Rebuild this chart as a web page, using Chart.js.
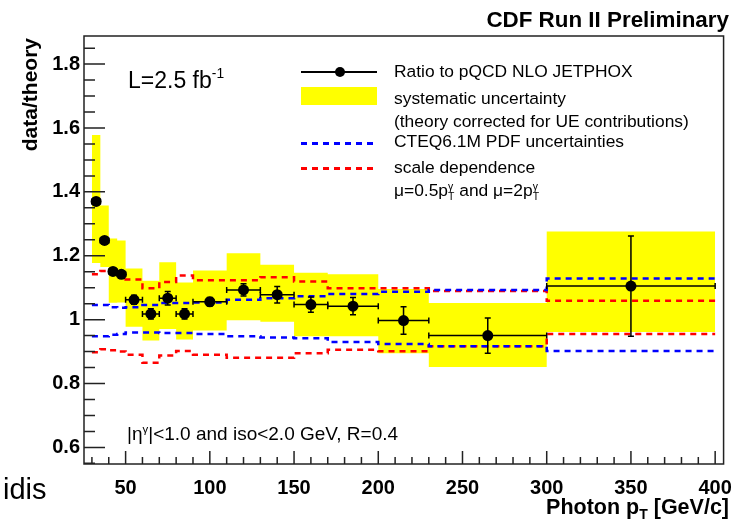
<!DOCTYPE html>
<html>
<head>
<meta charset="utf-8">
<script src="https://cdn.jsdelivr.net/npm/chart.js@4/dist/chart.umd.min.js"></script>
<style>
  html, body { margin: 0; padding: 0; background: #fff; }
  #wrap { position: relative; width: 744px; height: 519px; font-family: "Liberation Sans", Arial, sans-serif; color: #000; overflow: hidden; }
  #chart { position: absolute; left: 0; top: 0; }
  .t { position: absolute; white-space: nowrap; line-height: 1; }
  .b { font-weight: bold; }
  .leg { font-size: 17.4px; left: 394px; }
  .stk { display: inline-block; vertical-align: -4px; font-size: 0.6em; line-height: 1; text-align: left; }
  .stk span { display: block; }
  .sym { position: absolute; left: 301px; width: 76px; }
  .dash { height: 2.5px; }
</style>
</head>
<body>
<div id="wrap">
  <canvas id="chart" width="744" height="519"></canvas>

  <div class="t b" style="right:15px; top:9px; font-size:22.4px;">CDF Run II Preliminary</div>
  <div class="t b" style="left:19px; top:238px; width:200px; text-align:right; font-size:21px; transform:rotate(-90deg); transform-origin:top left;">data/theory</div>
  <div class="t b" style="right:15px; top:497px; font-size:21.5px;">Photon p<sub style="font-size:0.65em;">T</sub> [GeV/c]</div>

  <div class="t" style="left:128px; top:67px; font-size:23px;">L=2.5 fb<sup style="font-size:0.6em; vertical-align:0.7em;">-1</sup></div>
  <div class="t" style="left:127px; top:424px; font-size:19px;">|η<sup style="font-size:0.6em; vertical-align:0.6em;">γ</sup>|&lt;1.0 and iso&lt;2.0 GeV, R=0.4</div>
  <div class="t" style="left:3px; top:475px; font-size:29px;">idis</div>

  <!-- legend -->
  <div class="sym" style="top:71px; height:1.5px; background:#000;"></div>
  <div style="position:absolute; left:335px; top:67px; width:10px; height:10px; border-radius:50%; background:#000;"></div>
  <div class="sym" style="top:87px; height:18px; background:#ffff00;"></div>
  <div class="sym dash" style="top:142px; background:repeating-linear-gradient(90deg, #0000ff 0 6px, transparent 6px 11px);"></div>
  <div class="sym dash" style="top:167px; background:repeating-linear-gradient(90deg, #ff0000 0 6px, transparent 6px 11px);"></div>

  <div class="t leg" style="top:63px;">Ratio to pQCD NLO JETPHOX</div>
  <div class="t leg" style="top:90px;">systematic uncertainty</div>
  <div class="t leg" style="top:113px;">(theory corrected for UE contributions)</div>
  <div class="t leg" style="top:133px;">CTEQ6.1M PDF uncertainties</div>
  <div class="t leg" style="top:159px;">scale dependence</div>
  <div class="t leg" style="top:182px;">μ=0.5p<span class="stk"><span>γ</span><span>T</span></span> and μ=2p<span class="stk"><span>γ</span><span>T</span></span></div>
</div>

<script>
// bins in photon pT (GeV/c)
const binEdges = [30, 35, 40, 45, 50, 60, 70, 80, 90, 110, 130, 150, 170, 200, 230, 300, 400];
const ptCenters = [32.5, 37.5, 42.5, 47.5, 55, 65, 75, 85, 100, 120, 140, 160, 185, 215, 265, 350];

// data / theory with stat errors
const ratio = [1.370, 1.248, 1.151, 1.142, 1.062, 1.018, 1.067, 1.018, 1.056, 1.093, 1.078, 1.047, 1.042, 0.997, 0.950, 1.105];
const statErr = [0.008, 0.008, 0.010, 0.010, 0.014, 0.016, 0.021, 0.016, 0.013, 0.019, 0.026, 0.024, 0.027, 0.043, 0.055, 0.157];

// systematic band
const sysHigh = [1.578, 1.357, 1.254, 1.248, 1.160, 1.122, 1.180, 1.116, 1.154, 1.208, 1.172, 1.147, 1.142, 1.096, 1.052, 1.276];
const sysLow = [1.177, 1.165, 1.053, 1.054, 0.978, 0.935, 0.971, 0.938, 0.966, 0.998, 0.993, 0.948, 0.948, 0.895, 0.852, 0.961];

// CTEQ6.1M PDF uncertainties
const pdfHigh = [1.046, 1.046, 1.039, 1.037, 1.039, 1.046, 1.052, 1.052, 1.054, 1.062, 1.067, 1.073, 1.080, 1.087, 1.093, 1.129];
const pdfLow = [0.948, 0.948, 0.953, 0.955, 0.960, 0.960, 0.958, 0.958, 0.955, 0.948, 0.944, 0.942, 0.930, 0.924, 0.917, 0.902];

// scale dependence
const scaleHigh = [1.142, 1.152, 1.148, 1.142, 1.126, 1.098, 1.118, 1.138, 1.123, 1.123, 1.133, 1.119, 1.098, 1.098, 1.090, 1.059];
const scaleLow = [0.898, 0.907, 0.904, 0.900, 0.890, 0.865, 0.888, 0.902, 0.890, 0.881, 0.881, 0.895, 0.906, 0.901, 0.917, 0.955];

// axes
const xTickVals = [50, 100, 150, 200, 250, 300, 350, 400];
const yTickVals = [0.6, 0.8, 1.0, 1.2, 1.4, 1.6, 1.8];

const FONT = '"Liberation Sans", Arial, sans-serif';

function stepData(vals) {
    // histogram steps: one point per low bin edge, plus the last upper edge
    let pts = vals.map((v, i) => ({ x: binEdges[i], y: v }));
    pts.push({ x: binEdges[binEdges.length - 1], y: vals[vals.length - 1] });
    return pts;
}

function dashed(vals, color) {
    return {
        data: stepData(vals),
        stepped: true,
        borderColor: color,
        borderWidth: 2.5,
        borderDash: [6, 5],
        pointRadius: 0,
        fill: false
    };
}

const errorBars = {
    id: 'errorBars',
    beforeDatasetDraw(chart, args) {
        if (args.index !== 0) return;
        const ctx = chart.ctx;
        const xs = chart.scales.x, ys = chart.scales.y;
        ctx.save();
        ctx.strokeStyle = '#000';
        ctx.lineWidth = 1.5;
        ratio.forEach((v, i) => {
            let px = xs.getPixelForValue(ptCenters[i]);
            let py = ys.getPixelForValue(v);
            let x0 = xs.getPixelForValue(binEdges[i]);
            let x1 = xs.getPixelForValue(binEdges[i + 1]);
            let y0 = ys.getPixelForValue(v - statErr[i]);
            let y1 = ys.getPixelForValue(v + statErr[i]);
            ctx.beginPath();
            ctx.moveTo(x0, py); ctx.lineTo(x1, py);
            ctx.moveTo(x0, py - 3); ctx.lineTo(x0, py + 3);
            ctx.moveTo(x1, py - 3); ctx.lineTo(x1, py + 3);
            ctx.moveTo(px, y0); ctx.lineTo(px, y1);
            ctx.moveTo(px - 3, y0); ctx.lineTo(px + 3, y0);
            ctx.moveTo(px - 3, y1); ctx.lineTo(px + 3, y1);
            ctx.stroke();
        });
        ctx.restore();
    }
};

const frameTicks = {
    id: 'frameTicks',
    afterDraw(chart) {
        const ctx = chart.ctx;
        const a = chart.chartArea;
        const xs = chart.scales.x, ys = chart.scales.y;
        ctx.save();
        ctx.strokeStyle = '#222';
        ctx.lineWidth = 1.5;
        ctx.strokeRect(a.left, a.top, a.right - a.left, a.bottom - a.top);
        ctx.beginPath();
        // y ticks, inside the frame
        for (let k = 11; k <= 37; k++) {
            let v = k * 0.05;
            let py = ys.getPixelForValue(v);
            let len = (k % 4 === 0) ? 21 : 11;
            ctx.moveTo(a.left, py); ctx.lineTo(a.left + len, py);
        }
        // x ticks
        for (let v = 30; v <= 400; v += 10) {
            let px = xs.getPixelForValue(v);
            let len = (v % 50 === 0) ? 13 : 7;
            ctx.moveTo(px, a.bottom); ctx.lineTo(px, a.bottom - len);
        }
        ctx.stroke();
        ctx.restore();
    }
};

document.addEventListener("DOMContentLoaded", () => {
    const ctx = document.getElementById('chart').getContext('2d');
    new Chart(ctx, {
        type: 'line',
        data: {
            datasets: [{
                data: ptCenters.map((x, i) => ({ x: x, y: ratio[i] })),
                showLine: false,
                pointRadius: 5.5,
                pointBackgroundColor: '#000',
                pointBorderWidth: 0,
                fill: false
            },
            dashed(pdfHigh, '#0000ff'),
            dashed(pdfLow, '#0000ff'),
            dashed(scaleHigh, '#ff0000'),
            dashed(scaleLow, '#ff0000'),
            {
                data: stepData(sysLow),
                stepped: true,
                borderWidth: 0,
                pointRadius: 0,
                fill: false
            }, {
                data: stepData(sysHigh),
                stepped: true,
                borderWidth: 0,
                pointRadius: 0,
                backgroundColor: '#ffff00',
                fill: '-1'
            }]
        },
        options: {
            responsive: false,
            animation: false,
            layout: { padding: { top: 36, right: 12, bottom: 0, left: 0 } },
            plugins: {
                legend: { display: false },
                tooltip: { enabled: false },
                filler: { drawTime: 'beforeDatasetsDraw' }
            },
            scales: {
                x: {
                    type: 'linear',
                    min: 25.3,
                    max: 405,
                    grid: { display: false, drawTicks: false },
                    border: { display: false },
                    afterBuildTicks: s => { s.ticks = xTickVals.map(v => ({ value: v })); },
                    afterFit: s => { s.height = 55; },
                    ticks: {
                        color: '#000',
                        padding: 12,
                        maxRotation: 0,
                        autoSkip: false,
                        font: { family: FONT, size: 20, weight: 'bold' }
                    }
                },
                y: {
                    type: 'linear',
                    min: 0.548,
                    max: 1.888,
                    grid: { display: false, drawTicks: false },
                    border: { display: false },
                    afterBuildTicks: s => { s.ticks = yTickVals.map(v => ({ value: v })); },
                    afterFit: s => { s.width = 84; },
                    ticks: {
                        color: '#000',
                        padding: 4,
                        autoSkip: false,
                        font: { family: FONT, size: 20, weight: 'bold' },
                        callback: v => (Math.abs(v - 1) < 1e-6 ? '1' : v.toFixed(1))
                    }
                }
            }
        },
        plugins: [errorBars, frameTicks]
    });
});
</script>
</body>
</html>
